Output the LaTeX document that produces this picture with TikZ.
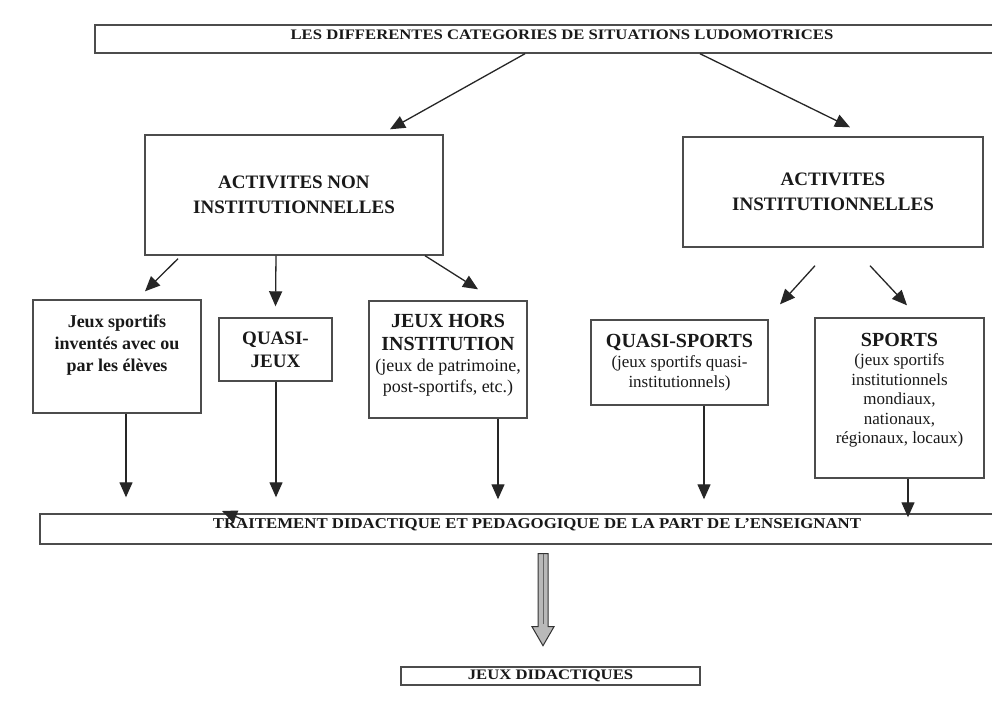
\documentclass[tikz,border=0pt]{standalone}
\usepackage{fontspec}
\setmainfont{Liberation Serif}
\usetikzlibrary{arrows.meta}
\begin{document}
\begin{tikzpicture}[x=1pt,y=-1pt,
  box/.style={draw=black!70,line width=1.4pt,rectangle,inner sep=0pt,align=center,text=black!90},
  arr/.style={draw=black!85,line width=1.3pt,-{Triangle[length=15pt,width=13pt]}},
  bigh/.style={font=\bfseries\fontsize{19}{25}\selectfont},
]
\clip (0,0) rectangle (992,722);
\fill[white] (0,0) rectangle (992,722);

\node[box,minimum width=934,minimum height=28,font=\bfseries\fontsize{14.5}{16}\selectfont] (title) at (562,39)
  {\raisebox{9pt}{\scalebox{1.15}[1]{LES DIFFERENTES CATEGORIES DE SITUATIONS LUDOMOTRICES}}};

\node[box,minimum width=298,minimum height=120,bigh] (ani) at (294,195) {ACTIVITES NON\\INSTITUTIONNELLES};
\node[box,minimum width=300,minimum height=110,bigh] (ai) at (833,192) {\raisebox{-8pt}{\parbox{290pt}{\centering ACTIVITES\\INSTITUTIONNELLES}}};

\node[box] (jsp) at (117,356.5) {\parbox[c][113pt][t]{168pt}{\centering\bfseries\fontsize{18}{22}\selectfont
  \rule{0pt}{27pt}Jeux sportifs\\inventés avec ou\\par les élèves}};
\node[box,minimum width=113,minimum height=63,font=\bfseries\fontsize{19}{23}\selectfont] (qj) at (275.5,349.5) {QUASI-\\JEUX};
\node[box] (jhi) at (448,359.5) {\parbox[c][117pt][t]{158pt}{\centering
  {\bfseries\fontsize{20}{23}\selectfont\rule{0pt}{26pt}JEUX HORS\\INSTITUTION\par}
  {\fontsize{18}{21}\selectfont (jeux de patrimoine,\\post-sportifs, etc.)\par}}};
\node[box] (qs) at (679.5,362.5) {\parbox[c][85pt][t]{177pt}{\centering
  {\bfseries\fontsize{20}{23}\selectfont\rule{0pt}{27pt}QUASI-SPORTS\par}
  {\fontsize{17}{20}\selectfont (jeux sportifs quasi-\\institutionnels)\par}}};
\node[box] (sp) at (899.5,398) {\parbox[c][160pt][t]{169pt}{\centering
  {\bfseries\fontsize{20}{23}\selectfont\rule{0pt}{28pt}SPORTS\par}
  {\fontsize{17}{19.5}\selectfont (jeux sportifs\\institutionnels\\mondiaux,\\nationaux,\\régionaux, locaux)\par}}};

\node[box,minimum width=994,minimum height=30,font=\bfseries\fontsize{15}{17}\selectfont] (trait) at (537,529)
  {\raisebox{10pt}{\scalebox{1.12}[1]{TRAITEMENT DIDACTIQUE ET PEDAGOGIQUE DE LA PART DE L'ENSEIGNANT}}};

\node[box,line width=1.2pt,minimum width=299,minimum height=18,font=\bfseries\fontsize{14.5}{16}\selectfont] (jd) at (550.5,676) {\scalebox{1.15}[1]{JEUX DIDACTIQUES}};

% connectors
\draw[arr] ([xshift=-37pt]title.south) -- ([xshift=96pt,yshift=5pt]ani.north);
\draw[arr] ([xshift=138pt]title.south) -- ([xshift=17pt,yshift=9pt]ai.north);

\draw[arr] ([xshift=-116pt,yshift=-3pt]ani.south) -- ([xshift=28pt,yshift=8pt]jsp.north);
\draw[arr] ([xshift=-18pt]ani.south) -- ([yshift=11pt]qj.north);
\draw[arr] ([xshift=131pt]ani.south) -- ([xshift=30pt,yshift=11pt]jhi.north);

\draw[arr] ([xshift=-18pt,yshift=-18pt]ai.south) -- ([xshift=100.5pt,yshift=15pt]qs.north);
\draw[arr] ([xshift=37pt,yshift=-18pt]ai.south) -- ([xshift=7.5pt,yshift=12pt]sp.north);

\draw[arr] ([xshift=9pt]jsp.south) -- ([xshift=-411pt,yshift=16pt]trait.north);
\draw[arr] ([xshift=0.5pt]qj.south) -- ([xshift=-261pt,yshift=16pt]trait.north);
\draw[arr] ([xshift=50pt]jhi.south) -- ([xshift=-39pt,yshift=14pt]trait.north);
\draw[arr] ([xshift=24.5pt]qs.south) -- ([xshift=167pt,yshift=14pt]trait.north);
\draw[arr] ([xshift=8.5pt]sp.south) -- ([xshift=371pt,yshift=-4pt]trait.north);

\coordinate (s1) at (244,520);
\coordinate (s2) at (222,511);
\draw[arr] (s1) -- (s2);

% hollow double arrow from trait to jd
\coordinate (ta) at ([xshift=6pt,yshift=-9pt]trait.south);
\draw[draw=black!80,fill=gray!55,line width=1pt,line join=miter]
  (ta) ++(-5,0) -- ++(0,73) -- ++(-6,0) -- ++(11,19) -- ++(11,-19) -- ++(-6,0) -- ++(0,-73) -- cycle;
\draw[black!60,line width=1pt] (ta) -- ++(0,70);
\end{tikzpicture}
\end{document}
